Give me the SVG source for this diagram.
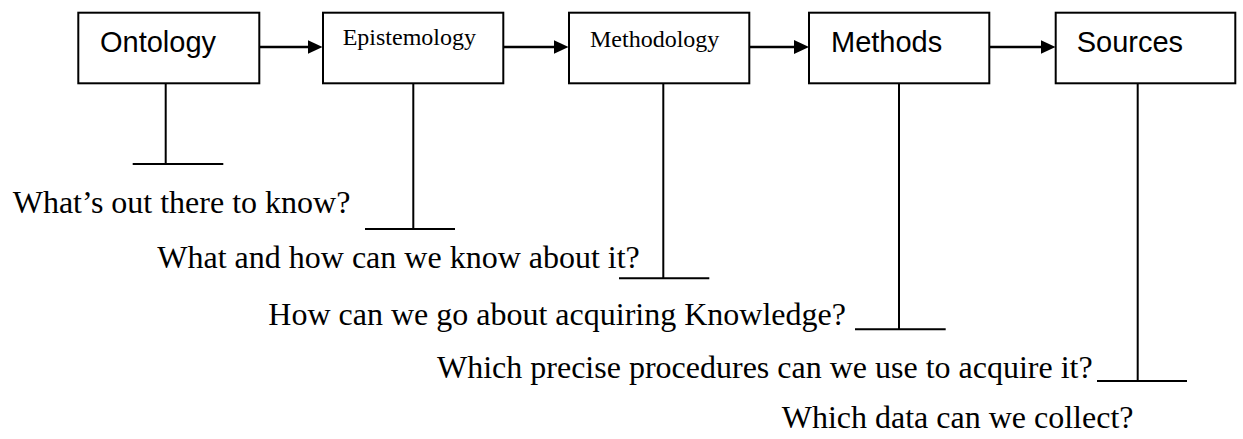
<svg xmlns="http://www.w3.org/2000/svg" width="1243" height="439" viewBox="0 0 1243 439">
<defs>
<style>
.box{fill:#fff;stroke:#000;stroke-width:2}
.sans{font-family:"Liberation Sans",Arial,sans-serif;font-size:29px;fill:#000}
.serifsm{font-family:"Liberation Serif","Times New Roman",serif;font-size:24px;fill:#000}
.q{font-family:"Liberation Serif","Times New Roman",serif;font-size:32px;fill:#000}
.arrow{stroke:#000;stroke-width:2.5;fill:none}
.tline{stroke:#000;stroke-width:2;fill:none}
</style>
<marker id="ah" markerUnits="userSpaceOnUse" markerWidth="16" markerHeight="14" refX="7" refY="7" orient="auto">
<path d="M0,0 L15,7 L0,14 Z" fill="#000"/>
</marker>
</defs>
<rect width="1243" height="439" fill="#fff"/>
<g id="connectors">
<line class="arrow" x1="259.3" y1="47" x2="314.5" y2="47" marker-end="url(#ah)"/>
<line class="arrow" x1="503.3" y1="47" x2="560.5" y2="47" marker-end="url(#ah)"/>
<line class="arrow" x1="749.3" y1="47" x2="801" y2="47" marker-end="url(#ah)"/>
<line class="arrow" x1="989.3" y1="47" x2="1047.5" y2="47" marker-end="url(#ah)"/>
<path class="tline" d="M165.7,83.3 V164 M132.7,164 H223.3"/>
<path class="tline" d="M413.3,83.3 V229 M365,229 H455"/>
<path class="tline" d="M663.3,83.3 V278.3 M619,278.3 H709.3"/>
<path class="tline" d="M899,83.3 V329.3 M855,329.3 H945.7"/>
<path class="tline" d="M1137.7,83.3 V381 M1097,381 H1187"/>
</g>
<g id="ontology">
<rect class="box" x="78.3" y="12.7" width="181" height="70.6"/>
<text class="sans" x="100" y="52">Ontology</text>
</g>
<g id="epistemology">
<rect class="box" x="323" y="12.7" width="180.3" height="70.6"/>
<text class="serifsm" x="342.7" y="44.7">Epistemology</text>
</g>
<g id="methodology">
<rect class="box" x="569" y="12.7" width="180.3" height="70.6"/>
<text class="serifsm" x="590" y="47">Methodology</text>
</g>
<g id="methods">
<rect class="box" x="809" y="12.7" width="180.3" height="70.6"/>
<text class="sans" x="831" y="52">Methods</text>
</g>
<g id="sources">
<rect class="box" x="1055.7" y="12.7" width="179.6" height="70.6"/>
<text class="sans" x="1076.7" y="52">Sources</text>
</g>
<g id="questions">
<text class="q" x="12.7" y="212.5">What’s out there to know?</text>
<text class="q" x="157.3" y="267.5">What and how can we know about it?</text>
<text class="q" x="268.3" y="325">How can we go about acquiring Knowledge?</text>
<text class="q" x="437" y="377.5">Which precise procedures can we use to acquire it?</text>
<text class="q" x="781.7" y="428.3">Which data can we collect?</text>
</g>
</svg>
